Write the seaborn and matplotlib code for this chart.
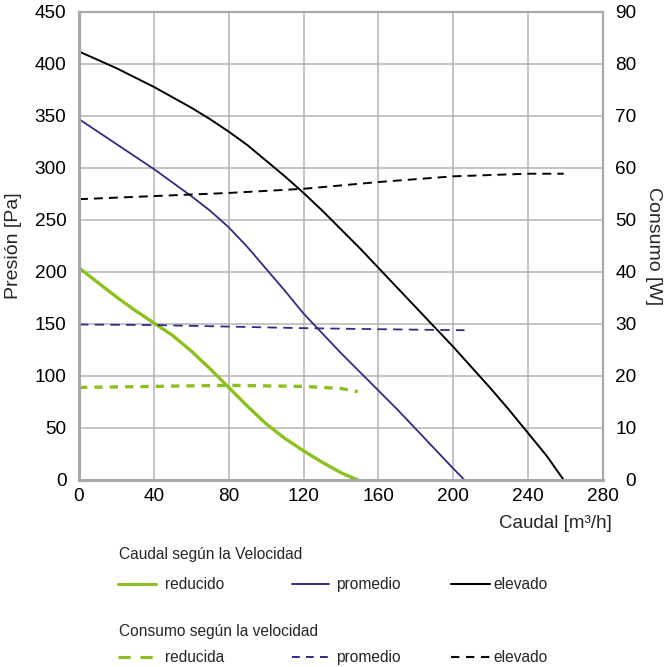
import numpy as np
import pandas as pd
import matplotlib.pyplot as plt
import seaborn as sns
from matplotlib.lines import Line2D

# curvas de presion (eje izquierdo, Pa) vs caudal (m3/h)
flow_low = [0, 10, 20, 30, 40, 50, 60, 70, 80, 90, 100, 110, 120, 130, 140, 145, 149]
pres_low = [204, 190, 176, 163, 151, 139, 124, 107, 89, 71, 54, 40, 28, 17, 7, 3, 0]

flow_mid = [0, 10, 20, 30, 40, 50, 60, 70, 80, 90, 100, 110, 120, 130, 140, 150,
            160, 170, 180, 190, 200, 206]
pres_mid = [347, 335, 323, 311, 299, 286, 273, 259, 243, 224, 203, 182, 160, 141, 122, 104,
            86, 68, 49, 30, 11, 0]

flow_high = [0, 10, 20, 30, 40, 50, 60, 70, 80, 90, 100, 110, 120, 130, 140, 150,
             160, 170, 180, 190, 200, 210, 220, 230, 240, 250, 259]
pres_high = [412, 404, 396, 387, 378, 368, 358, 347, 335, 322, 307, 292, 276, 259, 241, 223,
             204, 185, 166, 147, 128, 108, 88, 67, 45, 23, 0]

# consumo (eje derecho, W)
flow_pw_low = [0, 40, 80, 120, 140, 149]
power_low = [17.8, 18.0, 18.2, 18.0, 17.6, 17.0]

flow_pw_mid = [0, 40, 80, 120, 160, 206]
power_mid = [29.9, 29.8, 29.5, 29.2, 29.0, 28.8]

flow_pw_high = [0, 40, 80, 120, 160, 200, 240, 259]
power_high = [54.0, 54.6, 55.2, 56.0, 57.3, 58.4, 58.9, 58.9]

x_ticks = [0, 40, 80, 120, 160, 200, 240, 280]
y_ticks = [0, 50, 100, 150, 200, 250, 300, 350, 400, 450]
y2_ticks = [0, 10, 20, 30, 40, 50, 60, 70, 80, 90]

green = "#8bc11e"
blue = "#2f2b87"
black = "#000000"

sns.set_theme(style="white")
plt.rcParams["font.family"] = ["Liberation Sans", "DejaVu Sans"]

W, H = 665, 667
fig = plt.figure(figsize=(W / 100, H / 100), dpi=100)
ax = fig.add_axes([79 / W, 1 - 480 / H, (603 - 79) / W, (480 - 12) / H])
ax2 = ax.twinx()

sns.lineplot(x=flow_low, y=pres_low, ax=ax, color=green, lw=2.4, estimator=None)
sns.lineplot(x=flow_mid, y=pres_mid, ax=ax, color=blue, lw=1.3, estimator=None)
sns.lineplot(x=flow_high, y=pres_high, ax=ax, color=black, lw=1.4, estimator=None)

sns.lineplot(x=flow_pw_low, y=power_low, ax=ax2, color=green, lw=2.4,
             linestyle=(0, (2.5, 2.1)), estimator=None)
sns.lineplot(x=flow_pw_mid, y=power_mid, ax=ax2, color=blue, lw=1.3,
             linestyle=(0, (5.2, 3.5)), estimator=None)
sns.lineplot(x=flow_pw_high, y=power_high, ax=ax2, color=black, lw=1.4,
             linestyle=(0, (4.6, 3.1)), estimator=None)

ax.set_xlim(0, 280)
ax.set_ylim(0, 450)
ax2.set_ylim(0, 90)
ax.set_xticks(x_ticks)
ax.set_yticks(y_ticks)
ax2.set_yticks(y2_ticks)

ax.grid(True, color="#b4b4b4", lw=1.1)
ax2.grid(False)
ax.set_axisbelow(True)

for a in (ax, ax2):
    for s in a.spines.values():
        s.set_color("#a8a8a8")
        s.set_linewidth(1.5)
    a.spines["left"].set_linewidth(2.2)
    a.spines["bottom"].set_linewidth(2.2)

fs = 13.7
ax.tick_params(axis="both", length=0, labelsize=fs, colors="black")
ax.tick_params(axis="y", pad=9)
ax.tick_params(axis="x", pad=6)
ax2.tick_params(axis="y", length=0, labelsize=fs, pad=24, colors="black")
plt.setp(ax2.get_yticklabels(), ha="right")

ax.set_ylabel("Presión [Pa]", fontsize=14, labelpad=9)
ax2.set_ylabel("Consumo [W]", fontsize=14, rotation=270, va="bottom", labelpad=6)


def px(x, y):
    return x / W, 1 - y / H


fig.text(*px(612, 524), "Caudal [m³/h]", fontsize=13.5, ha="right", va="center")

# leyenda manual, dos grupos (texto alineado por la linea base)
leg_fs = 11.2
groups = [
    ("Caudal según la Velocidad", ["reducido", "promedio", "elevado"], "-", 554, 584),
    ("Consumo según la velocidad", ["reducida", "promedio", "elevado"], "--", 631, 657),
]
key_x = [(118, 156, 165), (292, 329, 336), (451, 490, 493)]
colors = [green, blue, black]
widths = [2.2, 1.4, 1.5]

for title, labels, ls, ty, ry in groups:
    fig.text(*px(119, ty + 5), title, fontsize=leg_fs, va="baseline", ha="left")
    for (x0, x1, xt), lab, c, w in zip(key_x, labels, colors, widths):
        style = "-" if ls == "-" else (0, (4, 3.2))
        fig.add_artist(Line2D([x0 / W, x1 / W], [1 - ry / H] * 2,
                              transform=fig.transFigure, color=c, lw=w,
                              linestyle=style))
        fig.text(*px(xt, ry + 5), lab, fontsize=leg_fs, va="baseline", ha="left")

fig.savefig("out.png", dpi=100)
